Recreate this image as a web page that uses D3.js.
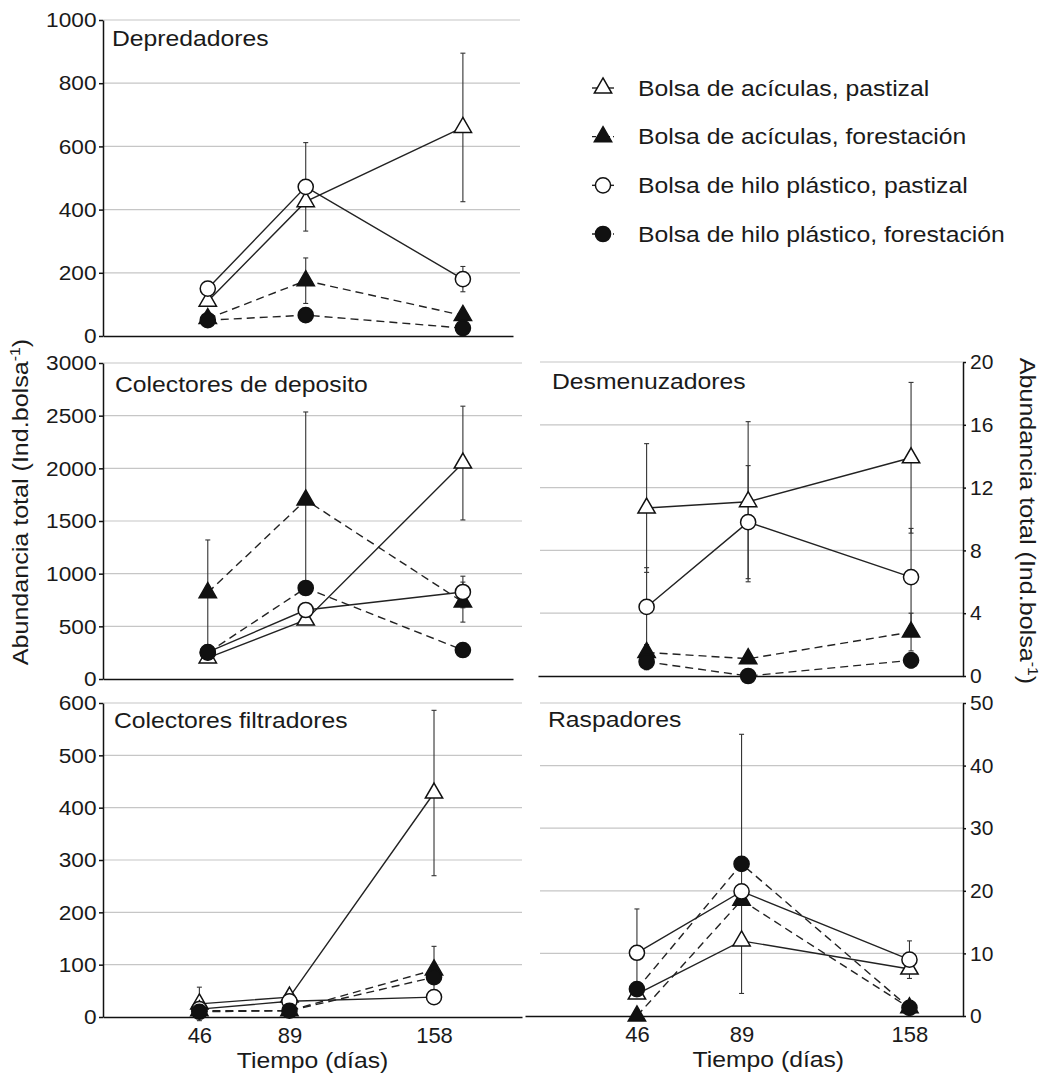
<!DOCTYPE html>
<html>
<head>
<meta charset="utf-8">
<script src="https://cdn.jsdelivr.net/npm/d3@7"></script>
<style>
  body { margin: 0; background: #fff; }
  text { font-family: "Liberation Sans", Arial, sans-serif; fill: #1a1a1a; }
</style>
</head>
<body>
<svg id="fig" width="1055" height="1077"></svg>
<script>
// sampling days (x values)
const days = [46, 89, 158];

// series order: acículas pastizal, acículas forestación, hilo pastizal, hilo forestación
const seriesNames = [
  "Bolsa de acículas, pastizal",
  "Bolsa de acículas, forestación",
  "Bolsa de hilo plástico, pastizal",
  "Bolsa de hilo plástico, forestación"
];

const panelTitles = ["Depredadores", "Colectores de deposito", "Colectores filtradores", "Desmenuzadores", "Raspadores"];

// means per series (rows) at each day, and error bar half-widths
const depredadoresMean = [[110, 425, 660], [55, 175, 65], [150, 472, 180], [50, 66, 25]];
const depredadoresErr  = [[0, 0, 235], [0, 72, 0], [0, 140, 40], [0, 0, 0]];

const depositoMean = [[200, 560, 2050], [820, 1700, 730], [255, 655, 826], [250, 864, 275]];
const depositoErr  = [[0, 0, 540], [500, 835, 190], [0, 0, 150], [0, 0, 0]];

const filtradoresMean = [[25, 38, 428], [12, 12, 90], [15, 30, 38], [10, 12, 76]];
const filtradoresErr  = [[32, 0, 158], [0, 0, 45], [0, 0, 0], [0, 0, 0]];

const desmenuzadoresMean = [[10.7, 11.1, 13.9], [1.5, 1.1, 2.8], [4.4, 9.8, 6.3], [0.9, 0, 1.0]];
const desmenuzadoresErr  = [[4.1, 5.1, 4.8], [0.5, 0, 1.2], [2.5, 3.6, 3.1], [0.5, 0, 0.5]];

const raspadoresMean = [[3.5, 12, 7.5], [0, 18.5, 1.3], [10.1, 19.9, 9.0], [4.3, 24.3, 1.3]];
const raspadoresErr  = [[0, 0, 0], [0, 0, 0], [7, 0, 3], [0, 20.7, 0]];

// y tick labels
const depredadoresTicks = [0, 200, 400, 600, 800, 1000];
const depositoTicks = [0, 500, 1000, 1500, 2000, 2500, 3000];
const filtradoresTicks = [0, 100, 200, 300, 400, 500, 600];
const desmenuzadoresTicks = [0, 4, 8, 12, 16, 20];
const raspadoresTicks = [0, 10, 20, 30, 40, 50];

const svg = d3.select("#fig");

// marker style of each series
const marks = [
  { shape: d3.symbolTriangle, fill: "#fff", dash: null },
  { shape: d3.symbolTriangle, fill: "#111", dash: "8,5" },
  { shape: d3.symbolCircle, fill: "#fff", dash: null },
  { shape: d3.symbolCircle, fill: "#111", dash: "8,5" }
];

function stretchText(sel, sx) {
  sel.each(function() {
    const t = d3.select(this);
    const prev = t.attr("transform") || "";
    t.attr("transform", prev + ` scale(${sx},1)`);
  });
}

function drawPanel(p) {
  const g = svg.append("g");
  const x = d3.scaleLinear().domain(p.xDomain).range(p.xRange);
  const y = d3.scaleLinear().domain([0, d3.max(p.ticks)]).range(p.yRange);

  // grid lines
  g.append("g").selectAll("line")
    .data(p.ticks.slice(1))
    .join("line")
      .attr("x1", p.grid[0]).attr("x2", p.grid[1])
      .attr("y1", d => y(d)).attr("y2", d => y(d))
      .attr("stroke", "#c6c6c6").attr("stroke-width", 1.2);

  // y axis
  const yAxis = (p.right ? d3.axisRight(y) : d3.axisLeft(y))
    .tickValues(p.ticks).tickFormat(d3.format("d"))
    .tickSizeInner(p.right ? 3 : 4).tickSizeOuter(0)
    .tickPadding(p.right ? 4 : 2);
  const ya = g.append("g")
    .attr("transform", `translate(${p.right ? p.xRange[1] : p.xRange[0]},0)`)
    .call(yAxis);
  ya.selectAll("path,line").attr("stroke", "#111").attr("stroke-width", 1.5);
  ya.selectAll("text").attr("font-size", 21).attr("fill", "#1a1a1a");
  if (!p.right) stretchText(ya.selectAll("text"), 1.08);

  // x axis
  const xAxis = d3.axisBottom(x).tickSizeOuter(0)
    .tickValues(p.xLabels ? days : []).tickSizeInner(0).tickPadding(10);
  const xa = g.append("g")
    .attr("transform", `translate(0,${p.yRange[0]})`)
    .call(xAxis);
  xa.select(".domain").attr("stroke", "#111").attr("stroke-width", 1.5);
  xa.selectAll("text").attr("font-size", 22).attr("fill", "#1a1a1a");

  if (p.xLabels) {
    g.append("text")
      .attr("transform", `translate(${x(100)},${p.yRange[0] + 51}) scale(1.15,1)`)
      .attr("text-anchor", "middle")
      .attr("font-size", 21.5)
      .text("Tiempo (días)");
  }

  // panel title
  g.append("text")
    .attr("transform", `translate(${p.titleX},${p.titleY}) scale(1.15,1)`)
    .attr("font-size", 21.5)
    .text(p.title);

  const line = d3.line().x(d => x(d.day)).y(d => y(d.v));
  const series = p.mean.map((vals, s) => vals.map((v, i) => ({ day: days[i], v: v, e: p.err[s][i], s: s })));

  // lines
  g.append("g").selectAll("path")
    .data(series)
    .join("path")
      .attr("d", line)
      .attr("fill", "none")
      .attr("stroke", "#222")
      .attr("stroke-width", 1.4)
      .attr("stroke-dasharray", (d, s) => marks[s].dash);

  // error bars
  const errs = series.flat().filter(d => d.e > 0);
  const eb = g.append("g").attr("stroke", "#333").attr("stroke-width", 1.1);
  eb.selectAll("line.v").data(errs).join("line").attr("class", "v")
    .attr("x1", d => x(d.day)).attr("x2", d => x(d.day))
    .attr("y1", d => y(d.v - d.e)).attr("y2", d => y(d.v + d.e));
  eb.selectAll("line.t").data(errs).join("line").attr("class", "t")
    .attr("x1", d => x(d.day) - 2.5).attr("x2", d => x(d.day) + 2.5)
    .attr("y1", d => y(d.v + d.e)).attr("y2", d => y(d.v + d.e));
  eb.selectAll("line.b").data(errs).join("line").attr("class", "b")
    .attr("x1", d => x(d.day) - 2.5).attr("x2", d => x(d.day) + 2.5)
    .attr("y1", d => y(d.v - d.e)).attr("y2", d => y(d.v - d.e));

  // markers
  g.append("g").selectAll("path")
    .data(series.flat())
    .join("path")
      .attr("transform", d => `translate(${x(d.day)},${y(d.v)})`)
      .attr("d", d => d3.symbol(marks[d.s].shape, marks[d.s].shape === d3.symbolCircle ? 180 : 130)())
      .attr("fill", d => marks[d.s].fill)
      .attr("stroke", "#111")
      .attr("stroke-width", 1.5);
}

drawPanel({ title: panelTitles[0], mean: depredadoresMean, err: depredadoresErr, ticks: depredadoresTicks,
  xDomain: [0, 180], xRange: [103, 513], yRange: [336, 20], grid: [103, 520], titleX: 112, titleY: 46 });
drawPanel({ title: panelTitles[1], mean: depositoMean, err: depositoErr, ticks: depositoTicks,
  xDomain: [0, 180], xRange: [103, 513], yRange: [679, 363], grid: [103, 522], titleX: 115, titleY: 392 });
drawPanel({ title: panelTitles[2], mean: filtradoresMean, err: filtradoresErr, ticks: filtradoresTicks,
  xDomain: [0, 200], xRange: [103, 522], yRange: [1017, 703], grid: [103, 522], titleX: 114, titleY: 728, xLabels: true });
drawPanel({ title: panelTitles[3], mean: desmenuzadoresMean, err: desmenuzadoresErr, ticks: desmenuzadoresTicks,
  xDomain: [0, 180], xRange: [538, 963], yRange: [676, 362], grid: [540, 963], titleX: 552, titleY: 389, right: true });
drawPanel({ title: panelTitles[4], mean: raspadoresMean, err: raspadoresErr, ticks: raspadoresTicks,
  xDomain: [0, 180], xRange: [525, 963], yRange: [1016, 703], grid: [540, 963], titleX: 548, titleY: 727, right: true, xLabels: true });

// y axis titles
function yTitle(tx, ty, rot) {
  const t = svg.append("text")
    .attr("transform", `translate(${tx},${ty}) rotate(${rot}) scale(1.14,1)`)
    .attr("text-anchor", "middle")
    .attr("dy", "0.36em")
    .attr("font-size", 22);
  t.append("tspan").text("Abundancia total (Ind.bolsa");
  t.append("tspan").attr("dy", -8).attr("font-size", 14).text("-1");
  t.append("tspan").attr("dy", 8).text(")");
}
yTitle(20, 502, -90);
yTitle(1028, 521, 90);

// legend
const legendY = d3.scalePoint().domain(seriesNames).range([88, 234]);
const lg = svg.append("g");
seriesNames.forEach((name, s) => {
  const yy = legendY(name);
  lg.append("line")
    .attr("x1", 592).attr("x2", 614).attr("y1", yy).attr("y2", yy)
    .attr("stroke", "#222").attr("stroke-width", 1.4)
    .attr("stroke-dasharray", marks[s].dash ? "4,3" : null);
  lg.append("path")
    .attr("transform", `translate(603,${yy})`)
    .attr("d", d3.symbol(marks[s].shape, marks[s].shape === d3.symbolCircle ? 180 : 130)())
    .attr("fill", marks[s].fill).attr("stroke", "#111").attr("stroke-width", 1.5);
  lg.append("text")
    .attr("transform", `translate(638,${yy}) scale(1.15,1)`)
    .attr("dy", "0.36em")
    .attr("font-size", 21.5)
    .text(name);
});
</script>
</body>
</html>
